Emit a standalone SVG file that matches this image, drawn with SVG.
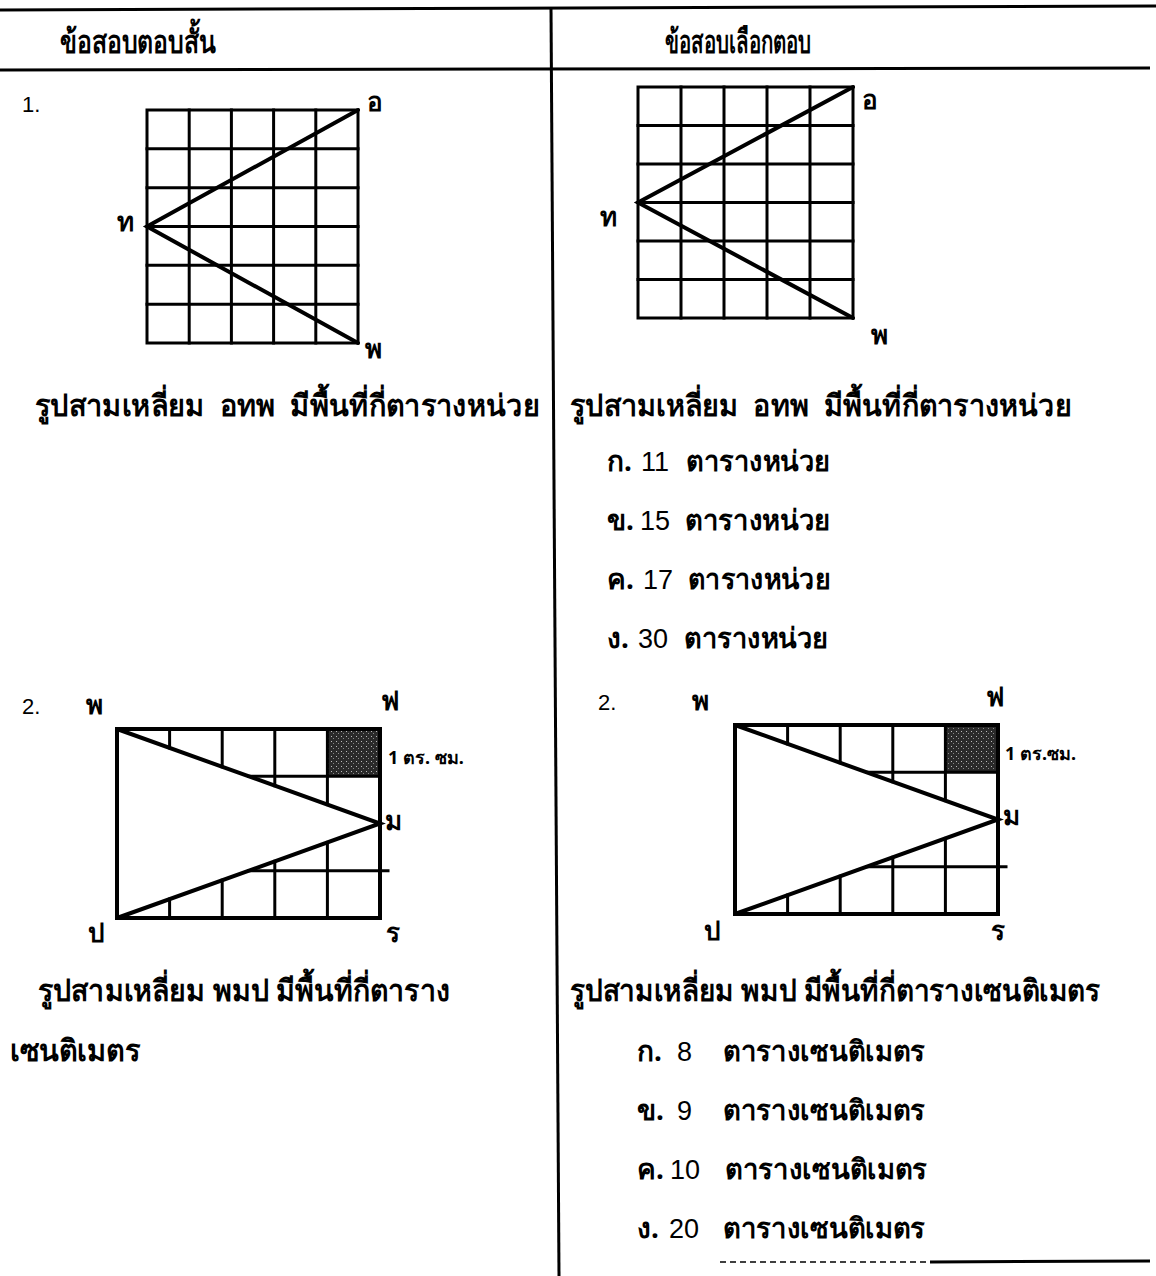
<svg xmlns="http://www.w3.org/2000/svg" width="1156" height="1276" viewBox="0 0 1156 1276">
<style>
.th{font-family:"Noto Sans","DejaVu Sans","Liberation Sans",sans-serif;font-weight:bold;fill:#000}
.lb{font-family:"Noto Sans","DejaVu Sans","Liberation Sans",sans-serif;font-weight:bold;fill:#000;font-size:26px}
.num{font-family:"Liberation Sans","Arial",sans-serif;fill:#000}
.n{font-family:"Liberation Sans","Arial",sans-serif;font-weight:normal;font-size:27px}
.g{stroke:#000;stroke-width:3;fill:none;stroke-linecap:square}
.d{stroke:#000;stroke-width:4;fill:none;stroke-linecap:round}
.rule{stroke:#000;stroke-width:3;fill:none}
</style>
<defs>
<pattern id="dots" width="5" height="5" patternUnits="userSpaceOnUse">
<rect width="5" height="5" fill="#2a2a2a"/>
<rect x="1" y="1" width="1" height="1" fill="#bbb"/>
<rect x="3" y="3" width="1" height="1" fill="#888"/>
</pattern>
</defs>
<rect width="1156" height="1276" fill="#fff"/>
<g id="table">
<line class="rule" x1="0" y1="10" x2="1156" y2="6"/>
<line class="rule" x1="0" y1="70" x2="1150" y2="68"/>
<line class="rule" x1="551" y1="8" x2="559" y2="1276" stroke-width="2.5"/>
<line x1="720" y1="1262" x2="930" y2="1262" stroke="#000" stroke-width="1.5" stroke-dasharray="6 4"/>
<line x1="930" y1="1262" x2="1150" y2="1261" stroke="#000" stroke-width="3"/>
<text class="th" x="60" y="53" font-size="32" textLength="156" lengthAdjust="spacingAndGlyphs">ข้อสอบตอบสั้น</text>
<text class="th" x="665" y="53" font-size="32" textLength="146" lengthAdjust="spacingAndGlyphs">ข้อสอบเลือกตอบ</text>
</g>
<g id="q1-left">
<text class="num" x="22" y="112" font-size="22">1.</text>
<g class="g">
<rect x="147" y="110" width="211" height="233"/>
<line x1="189.2" y1="110" x2="189.2" y2="343"/>
<line x1="231.4" y1="110" x2="231.4" y2="343"/>
<line x1="273.6" y1="110" x2="273.6" y2="343"/>
<line x1="315.8" y1="110" x2="315.8" y2="343"/>
<line x1="147" y1="148.8" x2="358" y2="148.8"/>
<line x1="147" y1="187.7" x2="358" y2="187.7"/>
<line x1="147" y1="226.5" x2="358" y2="226.5"/>
<line x1="147" y1="265.3" x2="358" y2="265.3"/>
<line x1="147" y1="304.2" x2="358" y2="304.2"/>
</g>
<polyline class="d" points="358,110 147,226.5 358,343"/>
<text class="lb" x="367" y="111">อ</text>
<text class="lb" x="117" y="231">ท</text>
<text class="lb" x="365" y="358">พ</text>
<text class="th" x="35" y="416" font-size="30" textLength="505" lengthAdjust="spacingAndGlyphs" xml:space="preserve">รูปสามเหลี่ยม  อทพ  มีพื้นที่กี่ตารางหน่วย</text>
</g>
<g id="q1-right">
<g class="g">
<rect x="638" y="87" width="215" height="231"/>
<line x1="681" y1="87" x2="681" y2="318"/>
<line x1="724" y1="87" x2="724" y2="318"/>
<line x1="767" y1="87" x2="767" y2="318"/>
<line x1="810" y1="87" x2="810" y2="318"/>
<line x1="638" y1="125.5" x2="853" y2="125.5"/>
<line x1="638" y1="164" x2="853" y2="164"/>
<line x1="638" y1="202.5" x2="853" y2="202.5"/>
<line x1="638" y1="241" x2="853" y2="241"/>
<line x1="638" y1="279.5" x2="853" y2="279.5"/>
</g>
<polyline class="d" points="853,87 638,202.5 853,318"/>
<text class="lb" x="862" y="109">อ</text>
<text class="lb" x="600" y="226">ท</text>
<text class="lb" x="871" y="344">พ</text>
<text class="th" x="570" y="416" font-size="30" textLength="502" lengthAdjust="spacingAndGlyphs" xml:space="preserve">รูปสามเหลี่ยม  อทพ  มีพื้นที่กี่ตารางหน่วย</text>
<text class="th" y="471" font-size="28"><tspan x="607">ก.</tspan><tspan class="n" x="641">11</tspan><tspan x="686" textLength="144" lengthAdjust="spacingAndGlyphs">ตารางหน่วย</tspan></text>
<text class="th" y="530" font-size="28"><tspan x="607">ข.</tspan><tspan class="n" x="640">15</tspan><tspan x="685" textLength="145" lengthAdjust="spacingAndGlyphs">ตารางหน่วย</tspan></text>
<text class="th" y="589" font-size="28"><tspan x="607">ค.</tspan><tspan class="n" x="643">17</tspan><tspan x="688" textLength="142" lengthAdjust="spacingAndGlyphs">ตารางหน่วย</tspan></text>
<text class="th" y="648" font-size="28"><tspan x="607">ง.</tspan><tspan class="n" x="638">30</tspan><tspan x="684" textLength="144" lengthAdjust="spacingAndGlyphs">ตารางหน่วย</tspan></text>
</g>
<g id="q2-left">
<text class="num" x="22" y="714" font-size="22">2.</text>
<text class="lb" x="86" y="714">พ</text>
<text class="lb" x="381" y="710">ฟ</text>
<rect x="327.4" y="729" width="52.6" height="47.25" fill="url(#dots)"/>
<g class="g">
<line x1="169.6" y1="729" x2="169.6" y2="747.9"/>
<line x1="222.2" y1="729" x2="222.2" y2="766.8"/>
<line x1="274.8" y1="729" x2="274.8" y2="785.7"/>
<line x1="327.4" y1="729" x2="327.4" y2="804.6"/>
<line x1="248.5" y1="776.25" x2="380" y2="776.25"/>
<line x1="169.6" y1="918" x2="169.6" y2="899.1"/>
<line x1="222.2" y1="918" x2="222.2" y2="880.2"/>
<line x1="274.8" y1="918" x2="274.8" y2="861.3"/>
<line x1="327.4" y1="918" x2="327.4" y2="842.4"/>
<line x1="248.5" y1="870.75" x2="388" y2="870.75"/>
</g>
<rect x="117" y="729" width="263" height="189" fill="none" stroke="#000" stroke-width="4"/>
<polyline class="d" points="117,729 380,823.5 117,918"/>
<text class="th" x="388" y="764" font-size="18" xml:space="preserve">1 ตร. ซม.</text>
<text class="lb" x="385" y="830">ม</text>
<text class="lb" x="88" y="942">ป</text>
<text class="lb" x="386" y="942">ร</text>
<text class="th" x="38" y="1001" font-size="30" textLength="412" lengthAdjust="spacingAndGlyphs">รูปสามเหลี่ยม พมป มีพื้นที่กี่ตาราง</text>
<text class="th" x="10" y="1061" font-size="30" textLength="130" lengthAdjust="spacingAndGlyphs">เซนติเมตร</text>
</g>
<g id="q2-right">
<text class="num" x="598" y="710" font-size="22">2.</text>
<text class="lb" x="692" y="710">พ</text>
<text class="lb" x="986" y="706">ฟ</text>
<rect x="945.4" y="725" width="52.6" height="47.25" fill="url(#dots)"/>
<g class="g">
<line x1="787.6" y1="725" x2="787.6" y2="743.9"/>
<line x1="840.2" y1="725" x2="840.2" y2="762.8"/>
<line x1="892.8" y1="725" x2="892.8" y2="781.7"/>
<line x1="945.4" y1="725" x2="945.4" y2="800.6"/>
<line x1="866.5" y1="772.25" x2="998" y2="772.25"/>
<line x1="787.6" y1="914" x2="787.6" y2="895.1"/>
<line x1="840.2" y1="914" x2="840.2" y2="876.2"/>
<line x1="892.8" y1="914" x2="892.8" y2="857.3"/>
<line x1="945.4" y1="914" x2="945.4" y2="838.4"/>
<line x1="866.5" y1="866.75" x2="1006" y2="866.75"/>
</g>
<rect x="735" y="725" width="263" height="189" fill="none" stroke="#000" stroke-width="4"/>
<polyline class="d" points="735,725 998,819.5 735,914"/>
<text class="th" x="1005" y="760" font-size="18">1 ตร.ซม.</text>
<text class="lb" x="1003" y="825">ม</text>
<text class="lb" x="704" y="940">ป</text>
<text class="lb" x="991" y="940">ร</text>
<text class="th" x="570" y="1001" font-size="30" textLength="530" lengthAdjust="spacingAndGlyphs">รูปสามเหลี่ยม พมป มีพื้นที่กี่ตารางเซนติเมตร</text>
<text class="th" y="1061" font-size="28"><tspan x="637">ก.</tspan><tspan class="n" x="677">8</tspan><tspan x="723" textLength="202" lengthAdjust="spacingAndGlyphs">ตารางเซนติเมตร</tspan></text>
<text class="th" y="1120" font-size="28"><tspan x="637">ข.</tspan><tspan class="n" x="677">9</tspan><tspan x="723" textLength="202" lengthAdjust="spacingAndGlyphs">ตารางเซนติเมตร</tspan></text>
<text class="th" y="1179" font-size="28"><tspan x="637">ค.</tspan><tspan class="n" x="670">10</tspan><tspan x="725" textLength="202" lengthAdjust="spacingAndGlyphs">ตารางเซนติเมตร</tspan></text>
<text class="th" y="1238" font-size="28"><tspan x="637">ง.</tspan><tspan class="n" x="669">20</tspan><tspan x="723" textLength="202" lengthAdjust="spacingAndGlyphs">ตารางเซนติเมตร</tspan></text>
</g>
</svg>
